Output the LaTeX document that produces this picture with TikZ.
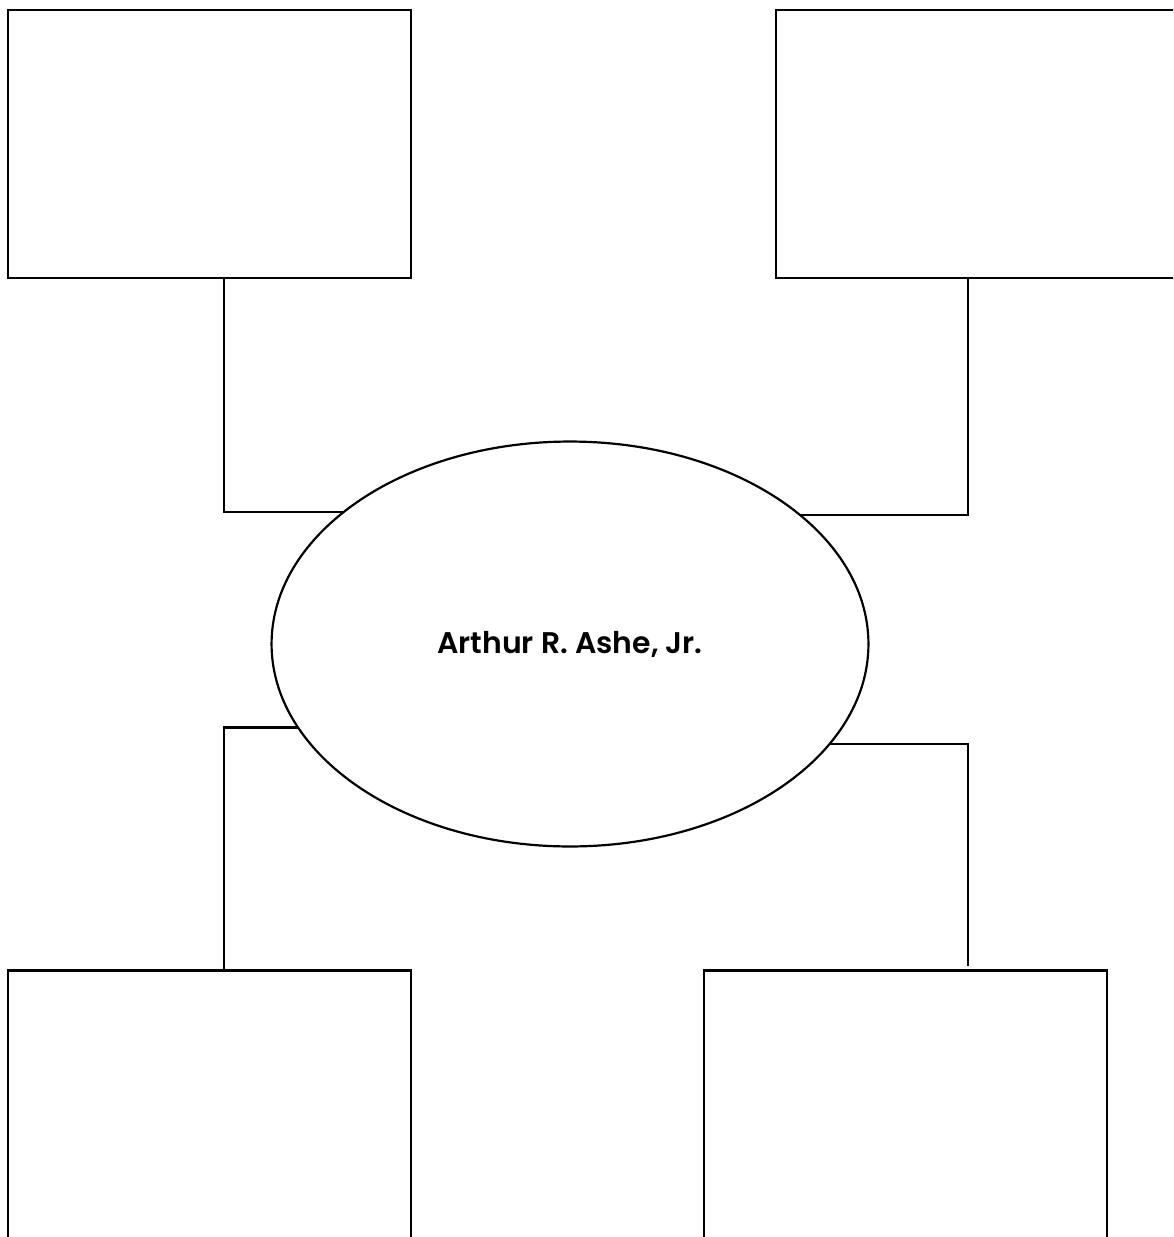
\documentclass[tikz,border=0pt]{standalone}
\usepackage{fontspec}
\setmainfont{Poppins}[BoldFont={Poppins SemiBold}]
\usetikzlibrary{positioning, shapes.geometric}

\begin{document}
\begin{tikzpicture}[
    x=0.02cm, y=-0.02cm,
    line width=1.25pt,
    box/.style={
        draw,
        minimum width=8.06cm,
        minimum height=5.36cm,
        inner sep=0pt
    },
    hub/.style={
        ellipse,
        draw,
        minimum width=11.94cm,
        minimum height=8.1cm,
        font=\fontsize{17}{20}\selectfont\bfseries
    },
    link/.style={line cap=rect}
]

\useasboundingbox (0,0) rectangle (1173,1237);
\clip (0,0) rectangle (1173,1237);

\node[hub] (Ashe) at (570,644) {Arthur R. Ashe, Jr.};

\node[box] (TL) at (209.5,144) {};
\node[box] (TR) at (977.5,144) {};
\node[box] (BL) at (209.5,1104.5) {};
\node[box] (BR) at (905.5,1104.5) {};

% corners of the connectors
\coordinate (tlc) at (224,514);
\coordinate (trc) at (968,514);
\coordinate (blc) at (224,730);
\coordinate (brc) at (968,746);
\coordinate (brend) at (968,965);

\draw[link] (TL.south -| tlc) |- (Ashe.150);
\draw[link] (TR.south -| trc) |- (Ashe.29.6);
\draw[link] (BL.north -| blc) |- (Ashe.197.9);
\draw[link] (brend) |- (Ashe.-21.6);

\end{tikzpicture}
\end{document}
